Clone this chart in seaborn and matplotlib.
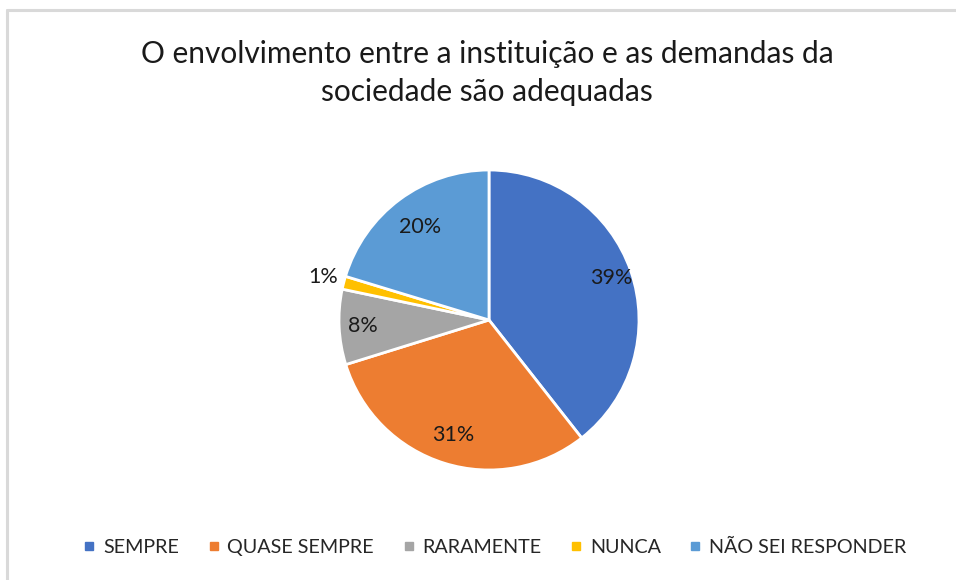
import numpy as np
import matplotlib
matplotlib.use("Agg")
import matplotlib.pyplot as plt
from matplotlib.lines import Line2D
import seaborn as sns

# dados
categorias = ["SEMPRE", "QUASE SEMPRE", "RARAMENTE", "NUNCA", "NÃO SEI RESPONDER"]
valores = [39.4, 30.8, 8.1, 1.4, 20.3]
rotulos = ["39%", "31%", "8%", "1%", "20%"]
cores = ["#4472C4", "#ED7D31", "#A5A5A5", "#FFC000", "#5B9BD5"]
titulo = "O envolvimento entre a instituição e as demandas da\nsociedade são adequadas"

# distancia radial de cada rotulo (fracao do raio)
dist_rotulo = [0.86, 0.80, 0.84, 1.14, 0.77]

sns.set_theme(style="white")
plt.rcParams['font.family'] = ['Lato', 'DejaVu Sans']

W, H = 956, 580
fig = plt.figure(figsize=(W / 100, H / 100), dpi=100)

# moldura cinza clara
fig.add_artist(Line2D([7 / W, 1], [1 - 10 / H, 1 - 10 / H], color="#D9D9D9", lw=2.2))
fig.add_artist(Line2D([7 / W, 7 / W], [0, 1 - 10 / H], color="#D9D9D9", lw=2.2))

cx, cy, r = 489, 320, 150
ax = fig.add_axes([(cx - r) / W, (H - cy - r) / H, 2 * r / W, 2 * r / H])
wedges, _ = ax.pie(valores, colors=cores, startangle=90, counterclock=False,
                   radius=1, wedgeprops=dict(edgecolor="white", linewidth=2))
ax.set_xlim(-1, 1)
ax.set_ylim(-1, 1)
ax.set_aspect("equal")
ax.axis("off")

for w, txt, d in zip(wedges, rotulos, dist_rotulo):
    ang = np.deg2rad((w.theta1 + w.theta2) / 2)
    ax.text(d * np.cos(ang), d * np.sin(ang), txt, ha="center", va="center",
            fontsize=15.5, color="#1a1a1a")

fig.text(487 / W, 1 - 73 / H, titulo, ha="center", va="center",
         fontsize=21.5, color="#1a1a1a", linespacing=1.45)

handles = [Line2D([], [], marker="s", linestyle="none", markersize=6,
                  markerfacecolor=c, markeredgecolor=c) for c in cores]
fig.legend(handles, categorias, loc="center", bbox_to_anchor=(494 / W, 1 - 547 / H),
           ncol=5, frameon=False, fontsize=14.2, handletextpad=0.3,
           columnspacing=1.35, handlelength=0.8, labelcolor="#262626")

fig.savefig("out.png", dpi=100, facecolor="white")
